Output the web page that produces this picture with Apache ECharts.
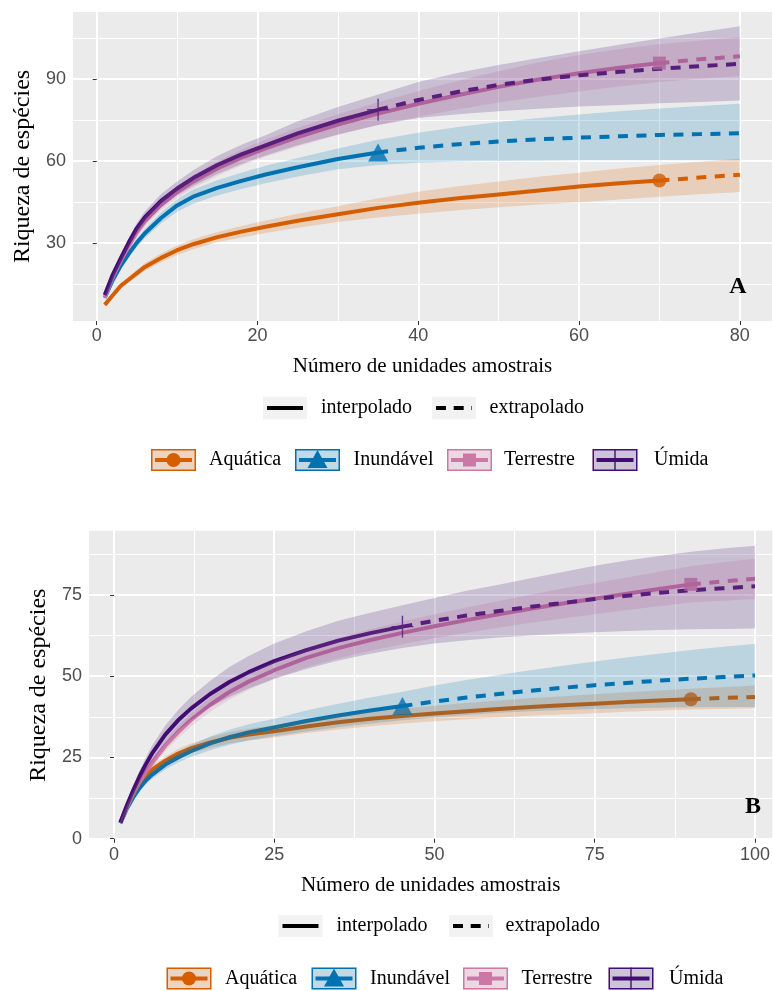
<!DOCTYPE html>
<html>
<head>
<meta charset="utf-8">
<script src="https://cdn.jsdelivr.net/npm/echarts@6/dist/echarts.min.js"></script>
<style>
  html, body { margin: 0; padding: 0; background: #ffffff; }
  #chart { width: 773px; height: 991px; }
</style>
</head>
<body>
<div id="chart"></div>
<script>
// ---- Data: species richness rarefaction / extrapolation curves ----
const assemblages = ['Aquática', 'Inundável', 'Terrestre', 'Úmida'];
const lineTypeLabels = ['interpolado', 'extrapolado'];

// Panel A
const unitsA = [1, 2, 3, 4, 5, 6, 8, 10, 12, 15, 18, 21, 25, 30, 35, 40, 45, 50, 55, 60, 65, 70, 75, 80];
const refSizeA = [70, 35, 70, 35];
const aquaticaA    = [7.4, 10.9, 14.4, 16.7, 19.0, 21.3, 24.6, 27.4, 29.6, 32.2, 34.2, 36.0, 38.2, 40.6, 42.9, 44.8, 46.4, 47.8, 49.3, 50.7, 51.9, 52.9, 54.0, 55.0];
const aquaticaA_lo = [6.8, 10.1, 13.4, 15.6, 17.8, 19.9, 23.0, 25.7, 27.8, 30.3, 32.1, 33.7, 35.6, 37.7, 39.4, 40.8, 42.0, 43.1, 44.1, 45.0, 46.0, 47.0, 47.9, 48.7];
const aquaticaA_hi = [8.0, 11.7, 15.4, 17.8, 20.2, 22.7, 26.2, 29.1, 31.4, 34.1, 36.3, 38.3, 40.8, 43.5, 46.4, 48.8, 50.8, 52.6, 54.3, 55.8, 57.3, 58.6, 59.8, 60.9];
const inundavelA    = [10.0, 16.5, 21.8, 26.2, 30.2, 33.6, 39.2, 43.8, 47.0, 50.2, 52.8, 55.1, 57.8, 60.8, 63.2, 64.9, 66.2, 67.2, 68.0, 68.6, 69.1, 69.6, 69.9, 70.2];
const inundavelA_lo = [9.3, 15.5, 20.6, 24.8, 28.6, 31.9, 37.2, 41.5, 44.4, 47.4, 49.8, 51.9, 54.4, 57.0, 58.6, 59.4, 59.9, 60.1, 60.2, 60.3, 60.3, 60.3, 60.3, 60.3];
const inundavelA_hi = [10.7, 17.5, 23.0, 27.6, 31.8, 35.3, 41.2, 46.1, 49.6, 53.0, 55.8, 58.3, 61.2, 64.6, 67.8, 70.4, 72.5, 74.3, 75.8, 77.1, 78.3, 79.3, 80.2, 81.0];
const terrestreA    = [10.0, 17.5, 23.5, 29.0, 34.0, 38.0, 44.0, 48.7, 52.5, 57.3, 61.3, 64.7, 68.8, 73.4, 77.4, 81.0, 84.2, 87.2, 89.9, 92.2, 94.2, 95.9, 97.3, 98.4];
const terrestreA_lo = [9.3, 16.5, 22.2, 27.5, 32.3, 36.2, 42.0, 46.5, 50.1, 54.6, 58.4, 61.6, 65.4, 69.6, 73.2, 76.3, 79.0, 81.5, 83.6, 85.5, 87.3, 89.0, 90.2, 91.2];
const terrestreA_hi = [10.7, 18.5, 24.8, 30.5, 35.7, 39.8, 46.0, 50.9, 54.9, 60.0, 64.2, 67.8, 72.2, 77.2, 81.6, 85.7, 89.4, 92.9, 96.2, 98.9, 101.1, 102.8, 104.2, 105.4];
const umidaA    = [11.0, 18.5, 24.5, 30.3, 35.5, 39.5, 45.5, 50.0, 53.8, 58.6, 62.5, 65.8, 70.2, 74.8, 78.8, 82.4, 85.4, 87.9, 89.9, 91.4, 92.7, 93.8, 94.8, 95.6];
const umidaA_lo = [10.3, 17.3, 23.0, 28.6, 33.5, 37.3, 43.0, 47.4, 50.9, 55.3, 59.0, 62.1, 65.8, 69.8, 73.2, 75.8, 77.2, 78.3, 79.2, 80.0, 80.6, 81.2, 81.7, 82.2];
const umidaA_hi = [11.7, 19.7, 26.0, 32.0, 37.5, 41.7, 48.0, 52.6, 56.7, 61.9, 66.0, 69.5, 74.6, 79.8, 84.4, 89.0, 92.4, 95.2, 97.8, 100.2, 102.6, 104.9, 107.2, 109.4];
const ticksAx = [0, 20, 40, 60, 80];
const ticksAy = [30, 60, 90];
const minorAx = [10, 30, 50, 70];
const minorAy = [15, 45, 75, 105];

// Panel B
const unitsB = [1, 2, 3, 4, 5, 6, 8, 10, 12, 15, 18, 21, 25, 30, 35, 40, 45, 50, 55, 60, 65, 70, 75, 80, 85, 90, 95, 100];
const refSizeB = [90, 45, 90, 45];
const aquaticaB    = [5.0, 9.5, 13.3, 16.5, 19.3, 21.3, 24.0, 26.2, 27.8, 29.6, 31.0, 32.0, 33.0, 34.5, 35.8, 36.9, 37.7, 38.5, 39.2, 39.9, 40.5, 41.0, 41.5, 42.0, 42.5, 42.9, 43.3, 43.6];
const aquaticaB_lo = [4.5, 8.8, 12.4, 15.5, 18.2, 20.1, 22.7, 24.8, 26.3, 28.0, 29.3, 30.2, 31.1, 32.5, 33.6, 34.6, 35.4, 36.1, 36.7, 37.3, 37.8, 38.2, 38.6, 39.0, 39.4, 39.7, 39.9, 40.1];
const aquaticaB_hi = [5.5, 10.2, 14.2, 17.5, 20.4, 22.5, 25.3, 27.6, 29.3, 31.2, 32.7, 33.8, 34.9, 36.5, 38.0, 39.2, 40.0, 40.9, 41.7, 42.5, 43.2, 43.8, 44.4, 45.0, 45.6, 46.1, 46.6, 47.1];
const inundavelB    = [4.8, 9.2, 12.7, 15.6, 18.0, 19.8, 22.8, 25.0, 26.9, 29.3, 31.2, 32.7, 34.2, 36.2, 37.9, 39.4, 40.8, 42.2, 43.4, 44.5, 45.5, 46.4, 47.2, 47.9, 48.6, 49.2, 49.7, 50.2];
const inundavelB_lo = [4.3, 8.5, 11.8, 14.5, 16.8, 18.5, 21.3, 23.4, 25.1, 27.2, 28.9, 30.2, 31.5, 33.0, 34.3, 35.4, 36.4, 37.3, 38.0, 38.7, 39.2, 39.6, 39.9, 40.1, 40.3, 40.4, 40.5, 40.5];
const inundavelB_hi = [5.3, 9.9, 13.6, 16.7, 19.2, 21.1, 24.3, 26.6, 28.7, 31.4, 33.5, 35.2, 36.9, 39.4, 41.5, 43.4, 45.2, 47.1, 48.8, 50.3, 51.8, 53.2, 54.5, 55.7, 56.9, 58.0, 59.0, 59.9];
const terrestreB    = [5.0, 9.5, 13.7, 17.4, 20.7, 23.5, 28.6, 32.8, 36.5, 41.2, 45.1, 48.3, 51.8, 55.6, 58.6, 61.1, 63.3, 65.3, 67.2, 69.0, 70.7, 72.3, 73.8, 75.3, 76.8, 78.2, 79.1, 79.9];
const terrestreB_lo = [4.4, 8.7, 12.7, 16.2, 19.3, 22.0, 26.9, 30.9, 34.5, 39.0, 42.7, 45.8, 49.1, 52.7, 55.5, 57.8, 59.8, 61.6, 63.3, 64.9, 66.4, 67.7, 69.0, 70.3, 71.5, 72.6, 73.2, 73.7];
const terrestreB_hi = [5.6, 10.3, 14.7, 18.6, 22.1, 25.0, 30.3, 34.7, 38.5, 43.4, 47.5, 50.8, 54.5, 58.5, 61.7, 64.4, 66.8, 69.0, 71.1, 73.1, 75.0, 76.9, 78.6, 80.3, 82.1, 83.8, 85.0, 86.1];
const umidaB    = [5.0, 10.2, 14.9, 19.2, 23.0, 26.4, 32.0, 36.4, 40.0, 44.5, 48.2, 51.2, 54.6, 58.0, 60.9, 63.2, 65.2, 67.0, 68.6, 70.0, 71.3, 72.5, 73.7, 74.7, 75.6, 76.4, 77.0, 77.6];
const umidaB_lo = [4.2, 9.0, 13.4, 17.4, 20.9, 24.0, 29.2, 33.2, 36.4, 40.4, 43.6, 46.2, 49.2, 52.2, 54.8, 56.9, 58.6, 60.0, 61.0, 61.9, 62.5, 63.0, 63.5, 63.9, 64.2, 64.4, 64.5, 64.6];
const umidaB_hi = [5.8, 11.4, 16.4, 21.0, 25.1, 28.8, 34.8, 39.6, 43.6, 48.6, 52.8, 56.2, 60.0, 63.8, 67.0, 69.5, 71.8, 74.0, 76.2, 78.1, 80.1, 82.0, 83.9, 85.5, 86.9, 88.2, 89.2, 90.1];
const ticksBx = [0, 25, 50, 75, 100];
const ticksBy = [0, 25, 50, 75];
const minorBx = [12.5, 37.5, 62.5, 87.5];
const minorBy = [12.5, 37.5, 62.5, 87.5];

// ---- Styles ----
const palette = ['#D55E00', '#0072B2', '#CC79A7', '#420D74'];
const plusPath = 'path://M10.3,0H11.7V22H10.3Z M0,10.3H22V11.7H0Z';
const markerSymbols = ['circle', 'triangle', 'rect', plusPath];
const markerSizes = [14, [20, 18], 13, 22];
const extrapDash = [10, 8.5];
const serif = '"Liberation Serif", "Times New Roman", serif';
const sans = '"Liberation Sans", Arial, sans-serif';

function rgba(hex, a) {
  const n = parseInt(hex.slice(1), 16);
  return 'rgba(' + (n >> 16) + ',' + ((n >> 8) & 255) + ',' + (n & 255) + ',' + a + ')';
}

const curvesA = [
  { mid: aquaticaA, lo: aquaticaA_lo, hi: aquaticaA_hi },
  { mid: inundavelA, lo: inundavelA_lo, hi: inundavelA_hi },
  { mid: terrestreA, lo: terrestreA_lo, hi: terrestreA_hi },
  { mid: umidaA, lo: umidaA_lo, hi: umidaA_hi }
];
const curvesB = [
  { mid: aquaticaB, lo: aquaticaB_lo, hi: aquaticaB_hi },
  { mid: inundavelB, lo: inundavelB_lo, hi: inundavelB_hi },
  { mid: terrestreB, lo: terrestreB_lo, hi: terrestreB_hi },
  { mid: umidaB, lo: umidaB_lo, hi: umidaB_hi }
];

// Lines and reference-sample markers first, confidence ribbons drawn on top
function panelSeries(units, curves, refSizes, axisIndex) {
  const marks = [];
  const ribbons = [];
  curves.forEach(function (c, k) {
    const n = refSizes[k];
    const interp = [];
    const extrap = [];
    units.forEach(function (u, i) {
      if (u <= n) interp.push([u, c.mid[i]]);
      if (u >= n) extrap.push([u, c.mid[i]]);
    });
    const common = { xAxisIndex: axisIndex, yAxisIndex: axisIndex, silent: true, animation: false };
    marks.push(Object.assign({
      type: 'line', name: assemblages[k] + ' interpolado', data: interp, symbol: 'none', z: 2,
      lineStyle: { color: palette[k], width: 4, cap: 'butt', join: 'round' }
    }, common));
    marks.push(Object.assign({
      type: 'line', name: assemblages[k] + ' extrapolado', data: extrap, symbol: 'none', z: 2,
      lineStyle: { color: palette[k], width: 4, type: extrapDash, cap: 'butt', join: 'round' }
    }, common));
    marks.push(Object.assign({
      type: 'scatter', name: assemblages[k], data: [[n, c.mid[units.indexOf(n)]]], z: 3,
      symbol: markerSymbols[k], symbolSize: markerSizes[k],
      itemStyle: { color: palette[k] }
    }, common));
    const rows = units.map(function (u, i) { return [u, c.lo[i], c.hi[i]]; });
    ribbons.push(Object.assign({
      type: 'custom', name: assemblages[k] + ' IC', data: rows, z: 4, clip: false,
      encode: { x: 0, y: [1, 2] },
      renderItem: function (params, api) {
        if (params.dataIndexInside !== 0) return null;
        const pts = [];
        for (let i = 0; i < rows.length; i++) pts.push(api.coord([rows[i][0], rows[i][2]]));
        for (let i = rows.length - 1; i >= 0; i--) pts.push(api.coord([rows[i][0], rows[i][1]]));
        return { type: 'polygon', shape: { points: pts }, style: { fill: rgba(palette[k], 0.2) } };
      }
    }, common));
  });
  return marks.concat(ribbons);
}

function mainX(gridIndex, min, max, ticks) {
  return {
    type: 'value', gridIndex: gridIndex, min: min, max: max,
    name: 'Número de unidades amostrais', nameLocation: 'middle', nameGap: 35,
    nameTextStyle: { fontFamily: serif, fontSize: 21, color: '#000' },
    axisLine: { show: false },
    axisTick: { show: true, length: 4, lineStyle: { color: '#333', width: 1 }, customValues: ticks },
    axisLabel: { customValues: ticks, fontFamily: sans, fontSize: 18, color: '#4D4D4D', margin: 6 },
    splitLine: { show: true, lineStyle: { color: '#FFFFFF', width: 2 } }
  };
}
function mainY(gridIndex, min, max, ticks, gap) {
  return {
    type: 'value', gridIndex: gridIndex, min: min, max: max,
    name: 'Riqueza de espécies', nameLocation: 'middle', nameGap: gap, nameRotate: 90,
    nameTextStyle: { fontFamily: serif, fontSize: 24, color: '#000' },
    axisLine: { show: false },
    axisTick: { show: true, length: 4, lineStyle: { color: '#333', width: 1 }, customValues: ticks },
    axisLabel: { customValues: ticks, fontFamily: sans, fontSize: 18, color: '#4D4D4D', margin: 7 },
    splitLine: { show: true, lineStyle: { color: '#FFFFFF', width: 2 } }
  };
}
function minorAxis(gridIndex, min, max, values) {
  return {
    type: 'value', gridIndex: gridIndex, min: min, max: max,
    axisLine: { show: false }, axisLabel: { show: false },
    axisTick: { show: false, customValues: values },
    splitLine: { show: true, lineStyle: { color: '#FFFFFF', width: 1 } }
  };
}

// Legend keys (line type and assemblage) for each panel
const legendLayouts = [
  { lineKeyX: [263, 432], lineTextX: [321, 489.5], lineY: 397,
    groupKeyX: [151, 295, 447, 592.5], groupTextX: [209, 353.5, 504, 654], groupY: 449 },
  { lineKeyX: [278.5, 449], lineTextX: [336.5, 505.5], lineY: 915,
    groupKeyX: [166.5, 311.5, 463, 608.5], groupTextX: [225, 370, 521.5, 669], groupY: 967.5 }
];

function legendGraphics(L) {
  const g = [];
  const dashes = [null, [10, 7.7]];
  lineTypeLabels.forEach(function (t, i) {
    const x = L.lineKeyX[i], y = L.lineY;
    g.push({ type: 'rect', z: 100, shape: { x: x, y: y, width: 44, height: 22 }, style: { fill: '#F2F2F2' } });
    g.push({ type: 'line', z: 101, shape: { x1: x + 4, y1: y + 11, x2: x + 40, y2: y + 11 },
      style: { stroke: '#000', lineWidth: 4, lineDash: dashes[i] } });
    g.push({ type: 'text', z: 101, style: { text: t, x: L.lineTextX[i], y: y + 11, align: 'left', verticalAlign: 'middle',
      font: '20px ' + serif, fill: '#000' } });
  });
  assemblages.forEach(function (name, k) {
    const x = L.groupKeyX[k], y = L.groupY, cx = x + 22.5, cy = y + 11, col = palette[k];
    g.push({ type: 'rect', z: 100, shape: { x: x, y: y, width: 45, height: 22 }, style: { fill: '#F2F2F2' } });
    if (k === 0) g.push({ type: 'circle', z: 101, shape: { cx: cx, cy: cy, r: 7 }, style: { fill: col } });
    if (k === 1) g.push({ type: 'polygon', z: 101, shape: { points: [[cx - 10, cy + 8], [cx + 10, cy + 8], [cx, cy - 10]] }, style: { fill: col } });
    if (k === 2) g.push({ type: 'rect', z: 101, shape: { x: cx - 6.5, y: cy - 6.5, width: 13, height: 13 }, style: { fill: col } });
    if (k === 3) g.push({ type: 'line', z: 101, shape: { x1: cx, y1: y, x2: cx, y2: y + 22 }, style: { stroke: col, lineWidth: 1.4 } });
    g.push({ type: 'line', z: 102, shape: { x1: x + 4, y1: cy, x2: x + 41, y2: cy }, style: { stroke: col, lineWidth: 4 } });
    g.push({ type: 'rect', z: 103, shape: { x: x + 0.75, y: y + 0.75, width: 43.5, height: 20.5 },
      style: { fill: rgba(col, 0.2), stroke: col, lineWidth: 1.5 } });
    g.push({ type: 'text', z: 101, style: { text: name, x: L.groupTextX[k], y: cy, align: 'left', verticalAlign: 'middle',
      font: '20px ' + serif, fill: '#000' } });
  });
  return g;
}

const panelTags = [
  { type: 'text', z: 200, style: { text: 'A', x: 738, y: 287, align: 'center', verticalAlign: 'middle', font: 'bold 24px ' + serif, fill: '#000' } },
  { type: 'text', z: 200, style: { text: 'B', x: 753, y: 807, align: 'center', verticalAlign: 'middle', font: 'bold 24px ' + serif, fill: '#000' } }
];

const chart = echarts.init(document.getElementById('chart'), null, { renderer: 'canvas' });
chart.setOption({
  animation: false,
  backgroundColor: '#FFFFFF',
  grid: [
    { left: 73, top: 12, width: 699, height: 309, show: true, backgroundColor: '#EBEBEB', borderWidth: 0 },
    { left: 89, top: 530.7, width: 684, height: 309, show: true, backgroundColor: '#EBEBEB', borderWidth: 0 }
  ],
  xAxis: [
    mainX(0, -2.95, 84.0, ticksAx),
    minorAxis(0, -2.95, 84.0, minorAx),
    mainX(1, -3.9, 102.7, ticksBx),
    minorAxis(1, -3.9, 102.7, minorBx)
  ],
  yAxis: [
    mainY(0, 1.5, 114.6, ticksAy, 38),
    minorAxis(0, 1.5, 114.6, minorAy),
    mainY(1, -0.3, 94.7, ticksBy, 37.5),
    minorAxis(1, -0.3, 94.7, minorBy)
  ],
  series: panelSeries(unitsA, curvesA, refSizeA, 0).concat(panelSeries(unitsB, curvesB, refSizeB, 2)),
  graphic: legendGraphics(legendLayouts[0]).concat(legendGraphics(legendLayouts[1])).concat(panelTags)
});
</script>
</body>
</html>
